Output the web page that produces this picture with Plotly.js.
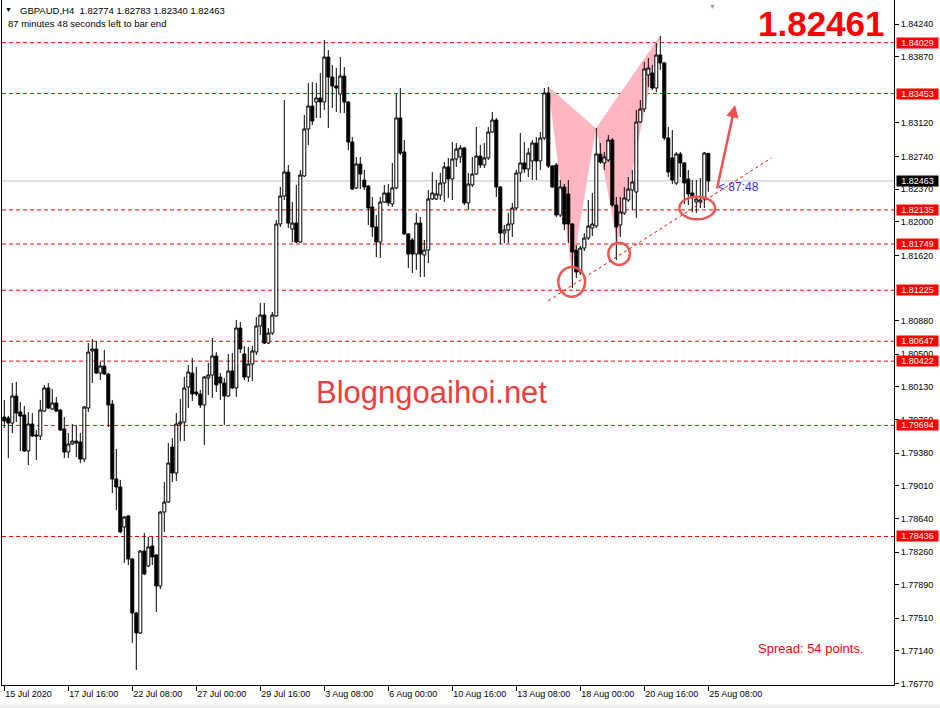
<!DOCTYPE html>
<html><head><meta charset="utf-8">
<script src="https://cdn.plot.ly/plotly-3.0.1.min.js"></script>
<style>html,body{margin:0;padding:0;background:#fff;}#chart{width:940px;height:708px;}</style>
</head><body><div id="chart"></div>
<script>
const barOpen = [1.79789,1.79778,1.79721,1.80027,1.79846,1.79812,1.79404,1.79710,1.79585,1.79574,
1.79857,1.80118,1.79880,1.79948,1.79868,1.79653,1.79393,1.79483,1.79517,1.79506,
1.79313,1.79891,1.80537,1.80559,1.80287,1.80367,1.80276,1.79936,1.79087,1.78996,
1.78543,1.78668,1.78181,1.77569,1.77343,1.78271,1.78102,1.78328,1.78226,1.77875,
1.78713,1.78826,1.79449,1.79155,1.79710,1.79732,1.80129,1.80287,1.80072,1.80050,
1.79925,1.80231,1.80265,1.80480,1.80242,1.80174,1.80027,1.80310,1.80118,1.80797,
1.80503,1.80242,1.80389,1.80525,1.80820,1.80944,1.80627,1.80740,1.80933,1.81975,
1.82292,1.82564,1.81918,1.81986,1.81771,1.82519,1.83051,1.83311,1.83357,1.83402,
1.83357,1.83866,1.83640,1.83538,1.83447,1.83651,1.83357,1.82904,1.82383,1.82655,
1.82473,1.82405,1.82168,1.81941,1.81771,1.82224,1.82326,1.82202,1.82383,1.83176,
1.82791,1.81862,1.81794,1.81635,1.81986,1.81624,1.81680,1.82258,1.82258,1.82303,
1.82439,1.82621,1.82485,1.82711,1.82734,1.82836,1.82213,1.82417,1.82541,1.82745,
1.82643,1.82723,1.83017,1.83153,1.82394,1.81873,1.81907,1.81975,1.82156,1.82553,
1.82666,1.82598,1.82689,1.82892,1.82689,1.82949,1.83459,1.82632,1.82643,1.82077,
1.82394,1.82315,1.81975,1.81680,1.81431,1.81703,1.81816,1.81930,1.81952,1.82768,
1.82666,1.82700,1.82926,1.82190,1.81964,1.82100,1.82247,1.82360,1.82337,1.83130,
1.83278,1.83663,1.83685,1.83515,1.83889,1.83799,1.82949,1.82723,1.82439,1.82768,
1.82666,1.82485,1.82326,1.82224,1.82224,1.82258,1.82774];
const barHigh = [1.79982,1.79800,1.80174,1.80186,1.79959,1.79914,1.79846,1.79834,1.79642,1.79982,
1.80152,1.80174,1.80106,1.80016,1.79880,1.79789,1.79608,1.79710,1.79698,1.79608,
1.79914,1.80627,1.80673,1.80650,1.80412,1.80548,1.80287,1.79982,1.79427,1.79076,
1.78668,1.78679,1.78192,1.77581,1.78283,1.78475,1.78430,1.78430,1.78237,1.78724,
1.79053,1.79495,1.79551,1.79834,1.79993,1.80242,1.80378,1.80457,1.80355,1.80095,
1.80253,1.80401,1.80684,1.80525,1.80287,1.80231,1.80503,1.80514,1.80888,1.80865,
1.80593,1.80582,1.80593,1.80922,1.81080,1.81080,1.80797,1.80978,1.82020,1.82394,
1.83379,1.82643,1.82224,1.82417,1.82587,1.83210,1.83572,1.83583,1.83572,1.83685,
1.84059,1.83946,1.83776,1.83742,1.83866,1.83753,1.83368,1.82960,1.82734,1.82734,
1.82587,1.82417,1.82281,1.82077,1.82281,1.82417,1.82428,1.82666,1.83459,1.83515,
1.82926,1.81873,1.81816,1.82100,1.82054,1.81794,1.82360,1.82564,1.82473,1.82553,
1.82677,1.82723,1.82904,1.82892,1.82870,1.82847,1.82553,1.82734,1.83074,1.82870,
1.82892,1.83074,1.83244,1.83176,1.82405,1.81964,1.82100,1.82213,1.82587,1.83006,
1.82904,1.82836,1.82926,1.82960,1.83017,1.83515,1.83527,1.82643,1.82666,1.82473,
1.82428,1.82473,1.81986,1.81737,1.81726,1.81873,1.82247,1.82326,1.83062,1.82892,
1.82791,1.82983,1.82949,1.82281,1.82281,1.82394,1.82507,1.82587,1.83266,1.83379,
1.83810,1.83855,1.83776,1.84025,1.84104,1.83810,1.83074,1.83040,1.82791,1.82791,
1.82677,1.82587,1.82473,1.82473,1.82496,1.82791,1.82783];
const barLow = [1.79665,1.79325,1.79608,1.79732,1.79404,1.79393,1.79245,1.79563,1.79302,1.79529,
1.79846,1.79880,1.79868,1.79846,1.79631,1.79325,1.79325,1.79472,1.79336,1.79268,
1.79279,1.79846,1.80174,1.80276,1.80208,1.80265,1.79676,1.78928,1.78736,1.78475,
1.78136,1.78113,1.77229,1.76924,1.77331,1.77999,1.78090,1.78113,1.77581,1.77841,
1.78487,1.78815,1.79053,1.79064,1.79517,1.79517,1.79891,1.79970,1.80027,1.79891,
1.79472,1.80038,1.80004,1.80072,1.79982,1.79698,1.80016,1.80106,1.80016,1.80514,
1.80208,1.80186,1.80197,1.80491,1.80718,1.80616,1.80616,1.80718,1.80922,1.81941,
1.82247,1.81930,1.81771,1.81760,1.81760,1.82507,1.82870,1.83096,1.83176,1.83176,
1.83266,1.83062,1.83289,1.83244,1.83232,1.83232,1.82813,1.82360,1.82371,1.82371,
1.82360,1.81964,1.81828,1.81601,1.81590,1.82213,1.82179,1.82168,1.82371,1.82757,
1.81850,1.81477,1.81420,1.81454,1.81375,1.81375,1.81533,1.82247,1.82247,1.82247,
1.82224,1.82270,1.82247,1.82621,1.82666,1.82190,1.82134,1.82394,1.82530,1.82609,
1.82609,1.82700,1.83006,1.82281,1.81749,1.81760,1.81760,1.81828,1.82134,1.82451,
1.82553,1.82507,1.82473,1.82473,1.82587,1.82926,1.82609,1.82383,1.82054,1.82054,
1.81907,1.81760,1.81250,1.81363,1.81397,1.81669,1.81794,1.81839,1.81930,1.82655,
1.82587,1.82677,1.82168,1.81567,1.81828,1.82077,1.82224,1.82134,1.82043,1.83119,
1.83244,1.83527,1.83493,1.83470,1.83719,1.82926,1.82507,1.82428,1.82417,1.82507,
1.82202,1.82190,1.82111,1.82100,1.82156,1.82156,1.82340];
const barClose = [1.79744,1.79721,1.80027,1.79834,1.79800,1.79404,1.79710,1.79574,1.79574,1.79868,
1.80118,1.79891,1.79948,1.79857,1.79642,1.79393,1.79483,1.79517,1.79495,1.79313,
1.79902,1.80525,1.80559,1.80287,1.80367,1.80276,1.79925,1.79087,1.78996,1.78487,
1.78657,1.78181,1.77569,1.77343,1.78271,1.78011,1.78317,1.78203,1.77875,1.78713,
1.78826,1.79268,1.79155,1.79710,1.79732,1.80118,1.80299,1.80050,1.80050,1.79925,
1.80242,1.80265,1.80480,1.80152,1.80174,1.80027,1.80310,1.80118,1.80797,1.80559,
1.80242,1.80389,1.80537,1.80820,1.80944,1.80627,1.80740,1.80944,1.81975,1.82292,
1.82564,1.81986,1.81986,1.81771,1.82530,1.83051,1.83311,1.83142,1.83402,1.83357,
1.83866,1.83640,1.83538,1.83515,1.83651,1.83357,1.82904,1.82371,1.82655,1.82541,
1.82394,1.82156,1.81941,1.81771,1.82224,1.82326,1.82213,1.82383,1.83176,1.82779,
1.81862,1.81635,1.81635,1.81986,1.81635,1.81680,1.82258,1.82326,1.82315,1.82439,
1.82621,1.82485,1.82711,1.82824,1.82836,1.82213,1.82428,1.82541,1.82745,1.82643,
1.82723,1.83017,1.83153,1.82394,1.81873,1.81907,1.81975,1.82156,1.82553,1.82666,
1.82598,1.82779,1.82892,1.82689,1.82949,1.83459,1.82632,1.82394,1.82077,1.82394,
1.81975,1.81975,1.81658,1.81431,1.81703,1.81816,1.81952,1.81975,1.82768,1.82677,
1.82734,1.82926,1.82190,1.81941,1.82111,1.82270,1.82371,1.82451,1.83130,1.83278,
1.83731,1.83742,1.83515,1.83889,1.83799,1.82949,1.82564,1.82473,1.82768,1.82666,
1.82439,1.82315,1.82281,1.82258,1.82247,1.82779,1.82463];

const dateTickIndex = [0,16,32,48,64,80,96,112,128,144,160,176];
const dateTickText = ["15 Jul 2020","17 Jul 16:00","22 Jul 08:00","27 Jul 00:00","29 Jul 16:00","3 Aug 08:00",
  "6 Aug 00:00","10 Aug 16:00","13 Aug 08:00","18 Aug 00:00","20 Aug 16:00","25 Aug 08:00"];
const priceTicks = [1.8424,1.8387,1.8312,1.8274,1.8237,1.8200,1.8162,1.8088,1.8050,1.8013,
  1.7976,1.7938,1.7901,1.7864,1.7826,1.7789,1.7751,1.7714,1.7677];
const levelPrices = [1.84029,1.83453,1.82135,1.81749,1.81225,1.80647,1.80422,1.79694,1.78436];
const currentPrice = 1.82463;
const bigPriceText = "1.82461";

// harmonic pattern points X, A, B, C, D (bar index, price)
const patternIdx = [136, 141.85, 147.9, 153.25, 163.9];
const patternPrice = [1.83530, 1.81431, 1.83059, 1.81756, 1.84104];
// support trend line
const trendIdx = [136, 191.85];
const trendPrice = [1.81106, 1.82726];
// up arrow
const arrowIdx = [178.1, 182.7];
const arrowPrice = [1.82360, 1.83323];
// circles
const circleIdx0 = [138.5, 151.0, 168.75];
const circleIdx1 = [145.2, 156.4, 177.7];
const circleLow = [1.81152, 1.81511, 1.82028];
const circleHigh = [1.81488, 1.81763, 1.82284];

const FONT = "'Liberation Sans', Arial, sans-serif";
const xIdx = barOpen.map((_, i) => i);

const trace = {
  type: 'candlestick', x: xIdx, open: barOpen, high: barHigh, low: barLow, close: barClose,
  increasing: {line: {color: '#000000', width: 1}, fillcolor: '#ffffff'},
  decreasing: {line: {color: '#000000', width: 1}, fillcolor: '#000000'},
  whiskerwidth: 0, hoverinfo: 'skip', showlegend: false
};

const shapes = [];
shapes.push({type:'path', xref:'x', yref:'y', layer:'below', line:{width:0}, fillcolor:'rgb(255,182,193)',
  path:`M ${patternIdx[0]},${patternPrice[0]} L ${patternIdx[1]},${patternPrice[1]} L ${patternIdx[2]},${patternPrice[2]} Z`});
shapes.push({type:'path', xref:'x', yref:'y', layer:'below', line:{width:0}, fillcolor:'rgb(255,182,193)',
  path:`M ${patternIdx[2]},${patternPrice[2]} L ${patternIdx[3]},${patternPrice[3]} L ${patternIdx[4]},${patternPrice[4]} Z`});
shapes.push({type:'line', xref:'paper', x0:0, x1:1, yref:'y', y0:currentPrice, y1:currentPrice, layer:'below',
  line:{color:'#c0c0c0', width:1}});
levelPrices.forEach(p => shapes.push({type:'line', xref:'paper', x0:0, x1:1, yref:'y', y0:p, y1:p, layer:'below',
  line:{color:'#ff0000', width:1, dash:'4px,3px'}}));
shapes.push({type:'line', xref:'x', yref:'y', x0:trendIdx[0], y0:trendPrice[0], x1:trendIdx[1], y1:trendPrice[1],
  layer:'above', line:{color:'#ff0000', width:1, dash:'3px,3px'}});
circleIdx0.forEach((v, k) => shapes.push({type:'circle', xref:'x', yref:'y', x0:v, x1:circleIdx1[k],
  y0:circleLow[k], y1:circleHigh[k], layer:'above', line:{color:'#f05555', width:2.5}}));
shapes.push({type:'rect', xref:'paper', yref:'paper', x0:-0.01, x1:1.06, y0:-0.0336, y1:-0.0285,
  fillcolor:'#f0f0f0', line:{width:0}, layer:'below'});

const annotations = [];
levelPrices.forEach(p => annotations.push({xref:'paper', x:1, xanchor:'left', xshift:2, yref:'y', y:p, yanchor:'middle',
  text:p.toFixed(5), showarrow:false, bgcolor:'#ff0000', font:{family:FONT, size:9, color:'#ffffff'},
  width:41, height:10, borderpad:0, align:'center'}));
annotations.push({xref:'paper', x:1, xanchor:'left', xshift:2, yref:'y', y:currentPrice, yanchor:'middle',
  text:currentPrice.toFixed(5), showarrow:false, bgcolor:'#000000', font:{family:FONT, size:9, color:'#ffffff'},
  width:41, height:10, borderpad:0, align:'center'});
annotations.push({xref:'paper', yref:'paper', x:0.0014, y:0.9855, xanchor:'left', yanchor:'middle', showarrow:false,
  text:'▼', font:{family:FONT, size:7, color:'#000000'}});
annotations.push({xref:'paper', yref:'paper', x:0.0182, y:0.984, xanchor:'left', yanchor:'middle', showarrow:false,
  text:'GBPAUD,H4\u00a0\u00a01.82774 1.82783 1.82340 1.82463', font:{family:FONT, size:9.5, color:'#000000'}});
annotations.push({xref:'paper', yref:'paper', x:0.005, y:0.965, xanchor:'left', yanchor:'middle', showarrow:false,
  text:'87 minutes 48 seconds left to bar end', font:{family:FONT, size:9.5, color:'#000000'}});
annotations.push({xref:'paper', yref:'paper', x:0.7960, y:0.991, xanchor:'center', yanchor:'middle', showarrow:false,
  text:'▼', font:{family:FONT, size:7, color:'#a0a0a0'}});
annotations.push({xref:'paper', yref:'paper', x:0.9922, y:0.965, xanchor:'right', yanchor:'middle', showarrow:false,
  text:'<b>' + bigPriceText + '</b>', font:{family:FONT, size:35, color:'#ff0000'}});
annotations.push({xref:'paper', yref:'paper', x:0.481, y:0.427, xanchor:'center', yanchor:'middle', showarrow:false,
  text:'Blogngoaihoi.net', font:{family:FONT, size:31, color:'#f03c3c'}});
annotations.push({xref:'paper', yref:'paper', x:0.9064, y:0.054, xanchor:'center', yanchor:'middle', showarrow:false,
  text:'Spread: 54 points.', font:{family:FONT, size:13, color:'#ff0000'}});
annotations.push({xref:'x', yref:'y', x:178.0, y:1.82394, xanchor:'left', yanchor:'middle', showarrow:false,
  text:'<\u00a087:48', font:{family:FONT, size:12, color:'#3232ff'}});
annotations.push({xref:'x', yref:'y', x:arrowIdx[1], y:arrowPrice[1], axref:'x', ayref:'y', ax:arrowIdx[0], ay:arrowPrice[0],
  text:'', showarrow:true, arrowhead:2, arrowsize:1, arrowwidth:2.5, arrowcolor:'#f05050'});

const layout = {
  width:940, height:708, margin:{l:2, r:46, t:0, b:23}, paper_bgcolor:'#ffffff', plot_bgcolor:'#ffffff',
  showlegend:false, boxgap:0.25, boxgroupgap:0, dragmode:false,
  xaxis:{range:[-0.575, 222.425], showgrid:false, zeroline:false, showline:true, linecolor:'#000000', linewidth:1,
    tickvals:dateTickIndex, ticktext:dateTickText, ticks:'outside', ticklen:5, tickcolor:'#000000',
    ticklabelposition:'outside right', tickfont:{family:FONT, size:9, color:'#000000'},
    rangeslider:{visible:false}, fixedrange:true},
  yaxis:{side:'right', range:[1.76754, 1.84512], showgrid:false, zeroline:false, showline:true, mirror:true,
    linecolor:'#000000', linewidth:1, tickvals:priceTicks, ticktext:priceTicks.map(v => v.toFixed(5)),
    ticks:'outside', ticklen:4, tickcolor:'#000000', tickfont:{family:FONT, size:9, color:'#000000'}, fixedrange:true},
  shapes:shapes, annotations:annotations
};

Plotly.newPlot('chart', [trace], layout, {displayModeBar:false, staticPlot:true});
</script>
</body></html>
